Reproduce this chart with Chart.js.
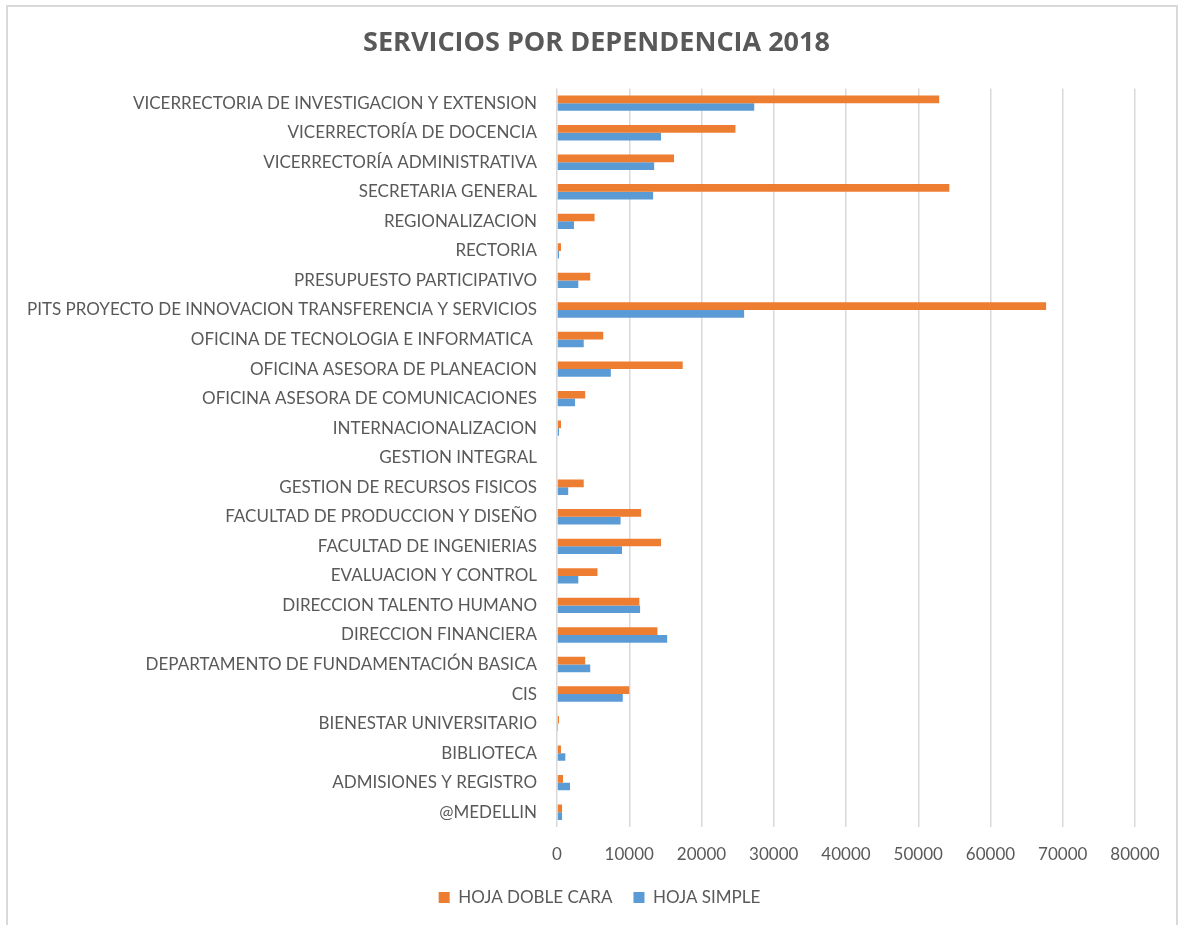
<!DOCTYPE html>
<html>
<head>
<meta charset="utf-8">
<script src="https://cdn.jsdelivr.net/npm/chart.js@4"></script>
<style>
  body { margin: 0; background: #fff; }
  #marco { position: absolute; left: 6px; top: 5px; width: 1172px; height: 930px; border: 2px solid #d9d9d9; box-sizing: border-box; }
  #caja { position: absolute; left: 0; top: 0; width: 1189px; height: 925px; }
</style>
</head>
<body>
<div id="marco"></div>
<div id="caja"><canvas id="grafica"></canvas></div>
<script>
// dependencias de arriba hacia abajo
const dependencias = [
  'VICERRECTORIA DE INVESTIGACION Y EXTENSION',
  'VICERRECTORÍA DE DOCENCIA',
  'VICERRECTORÍA ADMINISTRATIVA',
  'SECRETARIA GENERAL',
  'REGIONALIZACION',
  'RECTORIA',
  'PRESUPUESTO PARTICIPATIVO',
  'PITS PROYECTO DE INNOVACION TRANSFERENCIA Y SERVICIOS',
  'OFICINA DE TECNOLOGIA E INFORMATICA ',
  'OFICINA ASESORA DE PLANEACION',
  'OFICINA ASESORA DE COMUNICACIONES',
  'INTERNACIONALIZACION',
  'GESTION INTEGRAL',
  'GESTION DE RECURSOS FISICOS',
  'FACULTAD DE PRODUCCION Y DISEÑO',
  'FACULTAD DE INGENIERIAS',
  'EVALUACION Y CONTROL',
  'DIRECCION TALENTO HUMANO',
  'DIRECCION FINANCIERA',
  'DEPARTAMENTO DE FUNDAMENTACIÓN BASICA',
  'CIS',
  'BIENESTAR UNIVERSITARIO',
  'BIBLIOTECA',
  'ADMISIONES Y REGISTRO',
  '@MEDELLIN'
];

const hojaDobleCara = [52900, 24700, 16200, 54300, 5200, 550, 4600, 67700, 6400, 17400, 3900, 550, 0,
  3700, 11650, 14400, 5600, 11400, 13900, 3900, 10000, 280, 550, 830, 700];
const hojaSimple = [27300, 14400, 13450, 13300, 2350, 280, 2950, 25900, 3700, 7450, 2500, 280, 0,
  1550, 8800, 9000, 2950, 11500, 15250, 4600, 9100, 50, 1150, 1800, 700];

const gris = '#595959';
const letra = { family: 'Lato', size: 17 };

// el titulo y la leyenda van centrados en toda la figura, no solo a la izquierda del margen
const centrar = {
  id: 'centrar',
  afterLayout(chart) {
    if (chart.titleBlock) { chart.titleBlock.left += 29; chart.titleBlock.right += 29; }
    if (chart.legend) { chart.legend.left += 32; chart.legend.right += 32; }
  }
};

const ctx = document.getElementById('grafica').getContext('2d');
new Chart(ctx, {
  type: 'bar',
  data: {
    labels: dependencias,
    datasets: [
      { label: 'HOJA DOBLE CARA', data: hojaDobleCara, backgroundColor: '#ED7D31' },
      { label: 'HOJA SIMPLE', data: hojaSimple, backgroundColor: '#5B9BD5' }
    ]
  },
  plugins: [centrar],
  options: {
    indexAxis: 'y',
    responsive: true,
    maintainAspectRatio: false,
    animation: false,
    layout: { padding: { top: 22, right: 54, bottom: 9, left: 0 } },
    datasets: { bar: { categoryPercentage: 0.52, barPercentage: 1 } },
    plugins: {
      title: {
        display: true,
        text: 'SERVICIOS POR DEPENDENCIA 2018',
        color: gris,
        font: { family: 'Open Sans', size: 27, weight: 'bold' },
        padding: { top: 5, bottom: 29 }
      },
      legend: {
        position: 'bottom',
        labels: { color: gris, font: letra, boxWidth: 11, boxHeight: 11, padding: 21 }
      },
      tooltip: { enabled: false }
    },
    scales: {
      x: {
        min: 0, max: 80000,
        afterFit: s => { s.height = 41; },
        ticks: { stepSize: 10000, color: gris, font: letra, padding: 17, callback: v => String(v) },
        grid: { color: '#d9d9d9', lineWidth: 1.5, drawTicks: false },
        border: { display: false }
      },
      y: {
        afterFit: s => { s.width = 557; },
        ticks: { color: gris, font: letra, padding: 20, autoSkip: false },
        grid: { display: false, drawTicks: false },
        border: { display: false }
      }
    }
  }
});
</script>
</body>
</html>
